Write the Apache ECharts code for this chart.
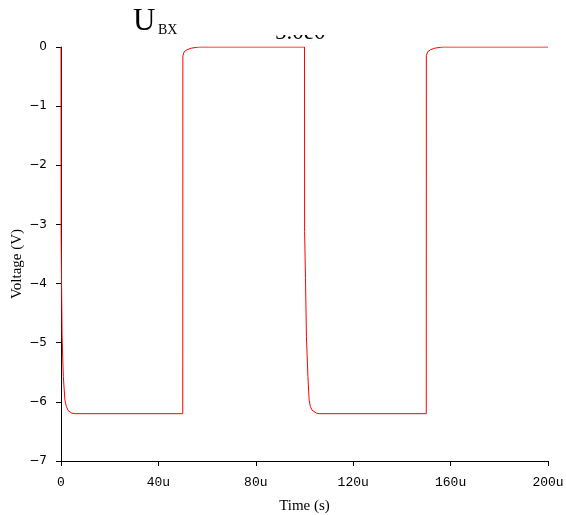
<!DOCTYPE html>
<html>
<head>
<meta charset="utf-8">
<script src="https://cdn.jsdelivr.net/npm/echarts@6/dist/echarts.min.js"></script>
<style>html,body{margin:0;padding:0;background:#fff}#c{width:566px;height:515px}</style>
</head>
<body>
<div id="c"></div>
<script>
// Data (time in microseconds, voltage in volts)
var timeUs = [0, 0.05, 0.2, 0.45, 0.95, 1.6, 2.2, 3.0, 4.4, 6, 50, 50.05, 50.6, 51.8, 53.5, 56, 57, 100, 100.05, 100.4, 100.8, 101.4, 101.9, 102.4, 103.1, 104.9, 106, 150, 150.05, 150.6, 151.8, 153.5, 156, 157, 200];
var voltage = [0, -3.2, -3.9, -4.9, -5.57, -5.97, -6.08, -6.15, -6.19, -6.2, -6.2, -0.15, -0.08, -0.045, -0.02, -0.004, 0, 0, -3.12, -3.9, -4.9, -5.57, -5.97, -6.08, -6.14, -6.19, -6.2, -6.2, -0.14, -0.08, -0.045, -0.02, -0.004, 0, 0];
var xTicks = [0, 40, 80, 120, 160, 200];
var yTicks = [-7, -6, -5, -4, -3, -2, -1, 0];
var titleMain = 'U';
var titleSub = 'BX';
var cutText = '5.0e0';
var xName = 'Time (s)';
var yName = 'Voltage (V)';

var pts = timeUs.map(function (t, i) { return [t, voltage[i]]; });
var chart = echarts.init(document.getElementById('c'));
chart.setOption({
  animation: false,
  backgroundColor: '#fff',
  grid: { left: 61, right: 18, top: 47, bottom: 54, containLabel: false, outerBoundsMode: 'none' },
  xAxis: {
    type: 'value', min: xTicks[0], max: xTicks[xTicks.length - 1], interval: 40,
    name: xName, nameLocation: 'middle', nameGap: 38,
    nameTextStyle: { fontFamily: 'Liberation Serif', fontSize: 15, color: '#000' },
    axisLine: { show: true, onZero: false, lineStyle: { color: '#000', width: 1 } },
    axisTick: { show: true, length: 5, lineStyle: { color: '#000' } },
    axisLabel: { fontFamily: 'Liberation Mono', fontSize: 13, color: '#000', margin: 15,
      formatter: function (v) { return v === 0 ? '0' : v + 'u'; } },
    splitLine: { show: false }
  },
  yAxis: {
    type: 'value', min: yTicks[0], max: yTicks[yTicks.length - 1], interval: 1,
    axisLine: { show: true, onZero: false, lineStyle: { color: '#000', width: 1 } },
    axisTick: { show: true, length: 5, lineStyle: { color: '#000' } },
    axisLabel: { fontFamily: 'DejaVu Sans', fontSize: 12, color: '#000', margin: 14,
      formatter: function (v) { return String(v).replace('-', '\u2212'); } },
    splitLine: { show: false }
  },
  series: [{
    type: 'line', data: pts, showSymbol: false, symbol: 'none',
    lineStyle: { color: '#ff0000', width: 1 }, itemStyle: { color: '#ff0000' }, z: 5
  }],
  graphic: [
    { type: 'text', x: 17, y: 264, rotation: Math.PI / 2, z: 10,
      style: { text: yName, font: '15px "Liberation Serif"', fill: '#000', align: 'center', verticalAlign: 'middle' } },
    { type: 'text', left: 133, top: 6, z: 10,
      style: { text: titleMain, font: '31px "Liberation Serif"', fill: '#000' } },
    { type: 'text', left: 158, top: 23, z: 10,
      style: { text: titleSub, font: '14px "Liberation Serif"', fill: '#000' } },
    { type: 'text', left: 275, top: 21, z: 10,
      style: { text: cutText, font: '23px "Liberation Serif"', fill: '#000' } },
    { type: 'rect', shape: { x: 268, y: 0, width: 70, height: 35 }, z: 11,
      style: { fill: '#fff' } }
  ]
});
</script>
</body>
</html>
